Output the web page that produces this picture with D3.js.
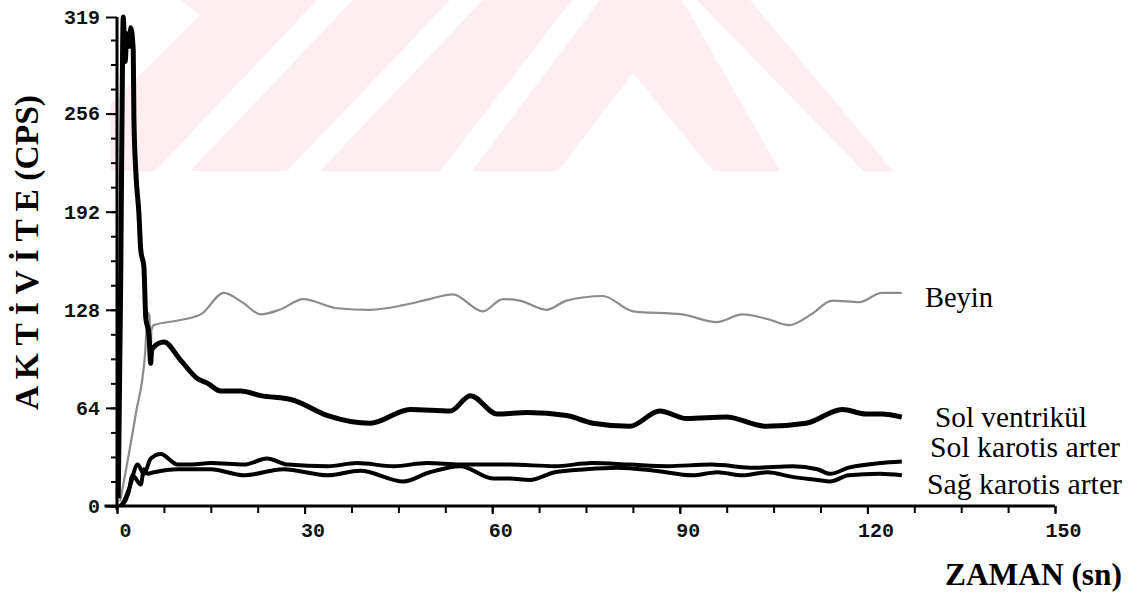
<!DOCTYPE html>
<html>
<head>
<meta charset="utf-8">
<script src="https://cdn.jsdelivr.net/npm/d3@7"></script>
<style>
  body { margin: 0; background: #ffffff; }
</style>
</head>
<body>
<script>
//DATA - time (sn) and activity (cps), one pair of arrays per curve
var beyinT = [0.5, 1.5, 3, 4.5, 4.9, 5.2, 5.4, 5.5, 5.9, 9.7, 13.4, 17.1, 20, 23, 26, 29.8, 35.2, 40.5, 45.8, 50, 53.7, 58.5, 61.7, 64.4, 68.7, 71.9, 77.7, 82.5, 90.4, 95.9, 100, 104, 107.5, 111, 114.4, 118.7, 122.3, 125.5];
var beyinV = [3, 25, 60, 100, 126, 124, 96, 115, 118, 121, 125, 139, 133, 125, 128, 135, 129, 128, 131, 135, 138, 127, 135, 134, 128, 134, 137, 127, 125, 120, 125, 122, 118, 125, 134, 133, 139, 139];

var ventT = [0.2, 0.6, 0.9, 1.0, 1.3, 1.6, 2.0, 2.2, 2.6, 2.7, 3.0, 3.5, 3.8, 4.3, 4.6, 5.1, 5.4, 5.5, 5.7, 7.5, 10.2, 12.9, 14.5, 16.6, 19.8, 23, 28.2, 33.7, 40.5, 46.9, 53.3, 56.5, 60.8, 65.6, 71.9, 76.1, 82, 86.8, 91.1, 97.4, 103.8, 110.2, 116, 119.8, 122.3, 125.5];
var ventV = [5, 150, 300, 319, 290, 308, 300, 312, 297, 254, 219, 191, 167, 156, 123, 112, 93, 100, 103, 107, 95, 83, 80, 75, 75, 72, 69, 59, 54, 63, 62, 72, 60, 61, 59, 54, 52, 62, 57, 58, 52, 54, 63, 60, 60, 58];

var solKarT = [0.5, 1.1, 2, 3.3, 4.3, 5.4, 7, 9.7, 12, 15, 20.3, 24, 27.3, 33.7, 38.4, 44.2, 49.6, 54.9, 62.8, 70, 76, 82, 88, 95, 102, 108, 112, 114, 117, 122, 125.5];
var solKarV = [0, 3, 12, 27, 21, 31, 34, 27, 27, 28, 27, 31, 27, 26, 28, 26, 28, 27, 27, 26, 28, 27, 26, 27, 25, 26, 24, 21, 25, 28, 29];

var sagKarT = [0.8, 1.8, 2.5, 3.8, 4.3, 4.9, 5.9, 9.7, 15, 20.3, 26.6, 33.7, 38.9, 45.8, 50, 54.9, 60.1, 62.8, 66, 70, 75, 80, 86, 92, 96, 100, 104, 108, 112, 114, 117, 122, 125.5];
var sagKarV = [0, 8, 20, 14, 24, 21, 22, 24, 24, 20, 24, 20, 23, 16, 22, 26, 18, 18, 17, 22, 24, 25, 23, 20, 22, 20, 22, 19, 17, 16, 20, 21, 20];

//tick values
var yTicks = [0, 64, 128, 192, 256, 319];
var xTicks = [0, 30, 60, 90, 120, 150];

//labels at the right end of the curves
var seriesNames = ["Beyin", "Sol ventrikül", "Sol karotis arter", "Sağ karotis arter"];

//background watermark (pale pink stripes at the top of the scan), in pixels
var watermark = [
  [[110,171],[110,105],[200,15],[180,0],[317,0],[155,171]],
  [[190,171],[353,0],[450,0],[287,171]],
  [[320,171],[483,0],[572,0],[440,171]],
  [[472,171],[600,0],[682,0],[780,171],[713,171],[633,73],[558,171]],
  [[697,0],[750,0],[893,171],[863,171]]
];

//SIZES
var width = 1147;
var height = 602;

var svg = d3.select("body")
        .append("svg")
        .attr("width", width)
        .attr("height", height)
        .style("background", "#ffffff");

//watermark first so everything sits on top of it
svg.append("g").attr("id", "watermark")
   .selectAll("polygon")
   .data(watermark)
   .enter()
   .append("polygon")
   .attr("points", function(d) { return d.map(function(p) { return p.join(","); }).join(" "); })
   .attr("fill", "#fdeef1");

//SCALES
var x = d3.scaleLinear().domain([0, 150]).range([117, 1055]);
var y = d3.scaleLinear().domain([0, 319]).range([506, 17]);

//AXES
//minor ticks (every 16 on y, every 7.5 on x), no labels
var yMinor = d3.range(0, 320, 16);
var xMinor = d3.range(0, 151, 7.5);

svg.append("g")
   .attr("transform", "translate(" + x(0) + ",0)")
   .call(d3.axisLeft(y).tickValues(yMinor).tickSize(6).tickFormat(""))
   .call(function(g) { g.select(".domain").remove(); })
   .selectAll("line").attr("stroke-width", 2);

svg.append("g")
   .attr("transform", "translate(0," + y(0) + ")")
   .call(d3.axisBottom(x).tickValues(xMinor).tickSize(7).tickFormat(""))
   .call(function(g) { g.select(".domain").remove(); })
   .selectAll("line").attr("stroke-width", 2);

//major y ticks with labels
var yAxis = svg.append("g")
   .attr("transform", "translate(" + x(0) + ",0)")
   .call(d3.axisLeft(y).tickValues(yTicks).tickSize(11).tickPadding(6));
yAxis.select(".domain").remove();
yAxis.selectAll("line").attr("stroke-width", 2);
yAxis.selectAll("text")
     .style("font-family", "'Liberation Mono', monospace")
     .style("font-weight", "bold")
     .style("font-size", "20px")
     .attr("fill", "#111");

//major x ticks with labels
var xAxis = svg.append("g")
   .attr("transform", "translate(0," + y(0) + ")")
   .call(d3.axisBottom(x).tickValues(xTicks).tickSize(8).tickPadding(9));
xAxis.select(".domain").remove();
xAxis.selectAll("line").attr("stroke-width", 2);
xAxis.selectAll("text")
     .attr("dx", 8)
     .style("font-family", "'Liberation Mono', monospace")
     .style("font-weight", "bold")
     .style("font-size", "20px")
     .attr("fill", "#111");

//axis lines themselves (x axis runs a little left of zero)
svg.append("line")
   .attr("x1", x(-2)).attr("x2", x(150))
   .attr("y1", y(0)).attr("y2", y(0))
   .attr("stroke", "#000").attr("stroke-width", 3);
svg.append("line")
   .attr("x1", x(0)).attr("x2", x(0))
   .attr("y1", y(0) + 4).attr("y2", y(319))
   .attr("stroke", "#000").attr("stroke-width", 3);

//CURVES
var line = d3.line()
        .x(function(d) { return x(d[0]); })
        .y(function(d) { return y(d[1]); })
        .curve(d3.curveMonotoneX);

var curves = [
  { t: beyinT, v: beyinV, color: "#8c8c8c", w: 2.2 },
  { t: ventT, v: ventV, color: "#000", w: 5 },
  { t: solKarT, v: solKarV, color: "#000", w: 4 },
  { t: sagKarT, v: sagKarV, color: "#000", w: 4 }
];

svg.append("g").attr("id", "curvegroup")
   .selectAll("path")
   .data(curves)
   .enter()
   .append("path")
   .attr("d", function(c) { return line(d3.zip(c.t, c.v)); })
   .attr("fill", "none")
   .attr("stroke", function(c) { return c.color; })
   .attr("stroke-width", function(c) { return c.w; })
   .attr("stroke-linejoin", "round");

//SERIES LABELS
var labelX = [925, 935, 930, 927];
var labelY = [307, 427, 457, 494];
var labelLen = [68, 152, 190, 195];

svg.append("g").attr("id", "labelgroup")
   .selectAll("text")
   .data(seriesNames)
   .enter()
   .append("text")
   .attr("x", function(d, i) { return labelX[i]; })
   .attr("y", function(d, i) { return labelY[i]; })
   .attr("textLength", function(d, i) { return labelLen[i]; })
   .attr("lengthAdjust", "spacingAndGlyphs")
   .text(function(d) { return d; })
   .style("font-family", "'Liberation Serif', serif")
   .style("font-size", "29px")
   .attr("fill", "#000");

//AXIS TITLES
svg.append("text")
   .attr("transform", "translate(38,410) rotate(-90)")
   .attr("textLength", 315)
   .attr("lengthAdjust", "spacingAndGlyphs")
   .text("A K T İ V İ T E (CPS)")
   .style("font-family", "'Liberation Serif', serif")
   .style("font-weight", "bold")
   .style("font-size", "33px")
   .attr("fill", "#000");

svg.append("text")
   .attr("x", 945)
   .attr("y", 585)
   .attr("textLength", 177)
   .attr("lengthAdjust", "spacingAndGlyphs")
   .text("ZAMAN (sn)")
   .style("font-family", "'Liberation Serif', serif")
   .style("font-weight", "bold")
   .style("font-size", "31px")
   .attr("fill", "#000");
</script>
</body>
</html>
